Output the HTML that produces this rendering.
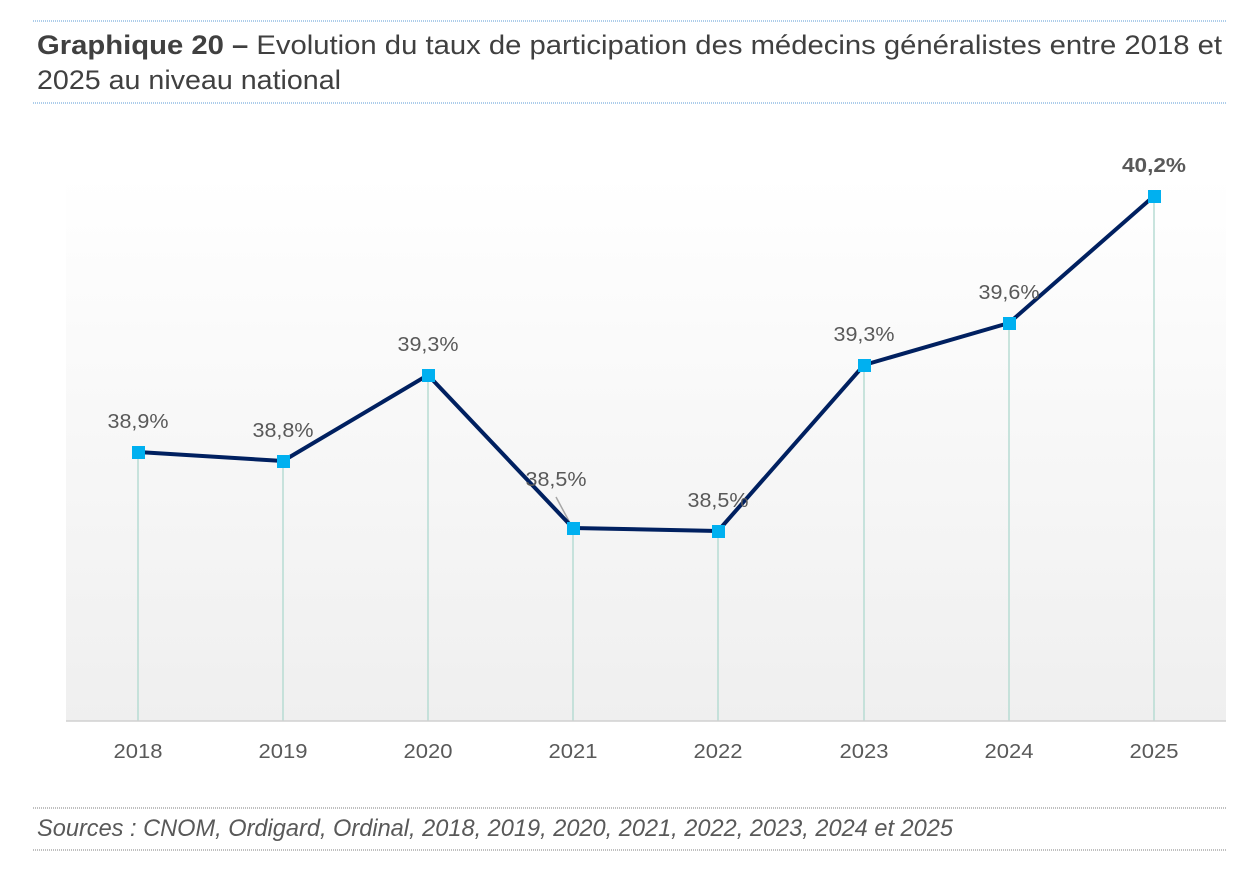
<!DOCTYPE html>
<html><head><meta charset="utf-8"><style>
body{margin:0;width:1260px;height:876px;background:#fff;overflow:hidden}
</style></head><body>
<svg width="1260" height="876" xmlns="http://www.w3.org/2000/svg" font-family="Liberation Sans, sans-serif">
<defs><linearGradient id="g" x1="0" y1="0" x2="0" y2="1"><stop offset="0" stop-color="#ffffff"/><stop offset="1" stop-color="#efefef"/></linearGradient></defs>
<line x1="33" y1="21" x2="1226" y2="21" stroke="#5b9bd5" stroke-width="1" stroke-dasharray="1,1"/>
<text x="37" y="54" font-size="27" fill="#404040" textLength="1185" lengthAdjust="spacingAndGlyphs"><tspan font-weight="bold">Graphique 20 –</tspan> Evolution du taux de participation des médecins généralistes entre 2018 et</text>
<text x="37" y="89" font-size="27" fill="#404040" textLength="304" lengthAdjust="spacingAndGlyphs">2025 au niveau national</text>
<line x1="33" y1="103" x2="1226" y2="103" stroke="#5b9bd5" stroke-width="1" stroke-dasharray="1,1"/>
<rect x="66" y="175" width="1160" height="546" fill="url(#g)"/>
<g stroke="#b7dcd3" stroke-width="1.5">
<line x1="138" y1="452" x2="138" y2="721"/><line x1="283" y1="461" x2="283" y2="721"/><line x1="428" y1="375" x2="428" y2="721"/><line x1="573" y1="528" x2="573" y2="721"/><line x1="718" y1="531" x2="718" y2="721"/><line x1="864" y1="365" x2="864" y2="721"/><line x1="1009" y1="323" x2="1009" y2="721"/><line x1="1154" y1="196" x2="1154" y2="721"/>
</g>
<line x1="66" y1="721" x2="1226" y2="721" stroke="#d0d0d0" stroke-width="1.5"/>
<line x1="556" y1="497" x2="570" y2="523" stroke="#a6a6a6" stroke-width="1.5"/>
<polyline points="138,452 283,461 428,375 573,528 718,531 864,365 1009,323 1154,196" fill="none" stroke="#002060" stroke-width="4" stroke-linejoin="round"/>
<g fill="#00b0f0">
<rect x="132" y="446" width="13" height="13"/><rect x="277" y="455" width="13" height="13"/><rect x="422" y="369" width="13" height="13"/><rect x="567" y="522" width="13" height="13"/><rect x="712" y="525" width="13" height="13"/><rect x="858" y="359" width="13" height="13"/><rect x="1003" y="317" width="13" height="13"/><rect x="1148" y="190" width="13" height="13"/>
</g>
<g font-size="20" fill="#595959" text-anchor="middle">
<text x="138" y="428" textLength="61" lengthAdjust="spacingAndGlyphs">38,9%</text><text x="283" y="437" textLength="61" lengthAdjust="spacingAndGlyphs">38,8%</text><text x="428" y="351" textLength="61" lengthAdjust="spacingAndGlyphs">39,3%</text><text x="556" y="486" textLength="61" lengthAdjust="spacingAndGlyphs">38,5%</text><text x="718" y="507" textLength="61" lengthAdjust="spacingAndGlyphs">38,5%</text><text x="864" y="341" textLength="61" lengthAdjust="spacingAndGlyphs">39,3%</text><text x="1009" y="299" textLength="61" lengthAdjust="spacingAndGlyphs">39,6%</text>
<text x="1154" y="172" font-weight="bold" textLength="64" lengthAdjust="spacingAndGlyphs">40,2%</text>
</g>
<g font-size="20" fill="#595959" text-anchor="middle">
<text x="138" y="758" textLength="49" lengthAdjust="spacingAndGlyphs">2018</text><text x="283" y="758" textLength="49" lengthAdjust="spacingAndGlyphs">2019</text><text x="428" y="758" textLength="49" lengthAdjust="spacingAndGlyphs">2020</text><text x="573" y="758" textLength="49" lengthAdjust="spacingAndGlyphs">2021</text><text x="718" y="758" textLength="49" lengthAdjust="spacingAndGlyphs">2022</text><text x="864" y="758" textLength="49" lengthAdjust="spacingAndGlyphs">2023</text><text x="1009" y="758" textLength="49" lengthAdjust="spacingAndGlyphs">2024</text><text x="1154" y="758" textLength="49" lengthAdjust="spacingAndGlyphs">2025</text>
</g>
<line x1="33" y1="808" x2="1226" y2="808" stroke="#7f7f7f" stroke-width="1" stroke-dasharray="1,1"/>
<text x="37" y="836" font-size="24" font-style="italic" fill="#595959" textLength="916" lengthAdjust="spacingAndGlyphs">Sources : CNOM, Ordigard, Ordinal, 2018, 2019, 2020, 2021, 2022, 2023, 2024 et 2025</text>
<line x1="33" y1="850" x2="1226" y2="850" stroke="#7f7f7f" stroke-width="1" stroke-dasharray="1,1"/>
</svg>
</body></html>
